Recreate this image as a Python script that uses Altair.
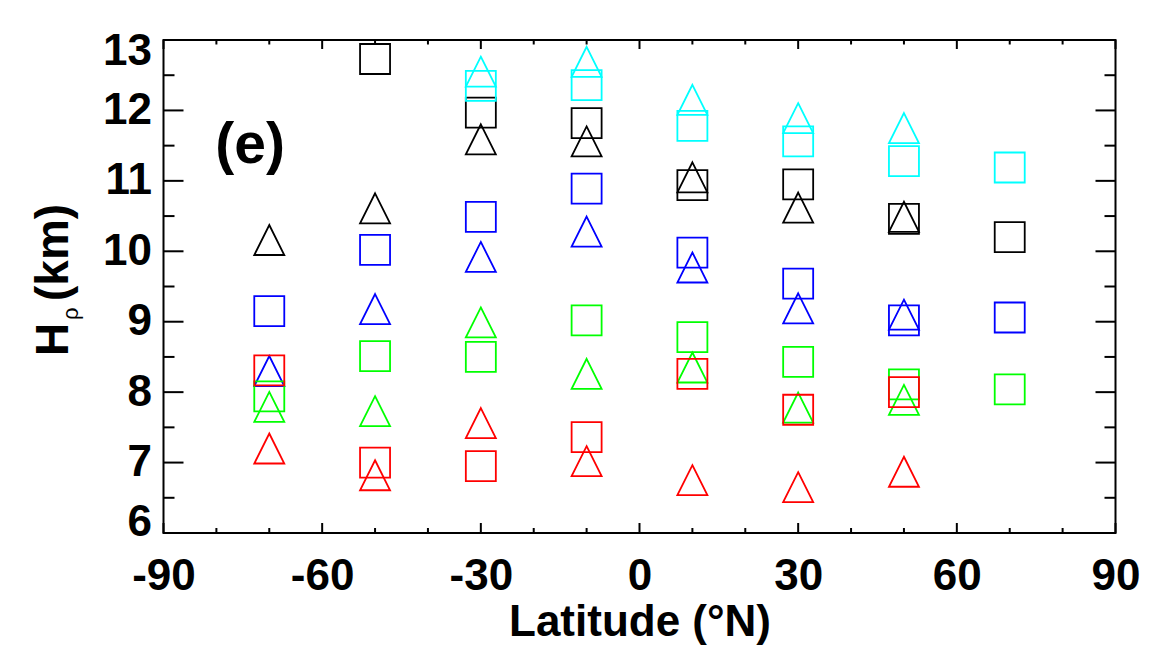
import altair as alt
import pandas as pd

# ---- data ----
lats = [-70, -50, -30, -10, 10, 30, 50, 70]

black_square = [None, 12.73, 11.97, 11.82, 10.94, 10.95, 10.46, 10.20]
black_triangle = [10.16, 10.61, 11.59, 11.56, 11.05, 10.62, 10.49, None]
blue_square = [9.15, 10.02, 10.49, 10.89, 9.98, 9.54, 9.02, 9.06]
blue_triangle = [8.30, 9.18, 9.92, 10.28, 9.77, 9.19, 9.10, None]
green_square = [7.94, 8.51, 8.50, 9.02, 8.78, 8.43, 8.11, 8.04]
green_triangle = [7.79, 7.73, 8.99, 8.26, 8.35, 7.78, 7.89, None]
red_square = [8.31, 7.00, 6.95, 7.36, 8.26, 7.75, 8.00, None]
red_triangle = [7.20, 6.82, 7.56, 7.02, 6.75, 6.65, 6.87, None]
cyan_square = [None, None, 12.35, 12.36, 11.78, 11.56, 11.28, 11.19]
cyan_triangle = [None, None, 12.55, 12.69, 12.15, 11.89, 11.75, None]

series_colors = ["black", "blue", "green", "red", "cyan"]
series_hex = ["#000000", "#0000ff", "#00ff00", "#ff0000", "#00ffff"]
marker_names = ["square", "triangle"]

x_major = [-90, -60, -30, 0, 30, 60, 90]
x_minor = [-80, -70, -50, -40, -20, -10, 10, 20, 40, 50, 70, 80]
y_major = [6, 7, 8, 9, 10, 11, 12, 13]
y_minor = [6.5, 7.5, 8.5, 9.5, 10.5, 11.5, 12.5]

x_title = "Latitude (°N)"
panel_label = "(e)"

series = [
    ("black", "square", black_square), ("black", "triangle", black_triangle),
    ("blue", "square", blue_square), ("blue", "triangle", blue_triangle),
    ("green", "square", green_square), ("green", "triangle", green_triangle),
    ("red", "square", red_square), ("red", "triangle", red_triangle),
    ("cyan", "square", cyan_square), ("cyan", "triangle", cyan_triangle),
]
rows = []
for col, mk, vals in series:
    for la, v in zip(lats, vals):
        if v is not None:
            rows.append({"lat": la, "H": v, "color": col, "marker": mk})
df = pd.DataFrame(rows)

FONT = "Liberation Sans"
xscale = alt.Scale(domain=[-90, 90], nice=False, zero=False)
yscale = alt.Scale(domain=[6, 13], nice=False, zero=False)

points = alt.Chart(df).mark_point(filled=False, size=900, strokeWidth=1.8, opacity=1).encode(
    x=alt.X("lat:Q", scale=xscale, axis=alt.Axis(
        values=x_major, labelExpr="'' + datum.value", ticks=False, tickSize=0, domain=False,
        grid=False, labelFlush=False, labelOverlap=False, labelFont=FONT, labelFontSize=44,
        labelFontWeight="bold", labelColor="black", labelPadding=21,
        title=x_title, titleFont=FONT, titleFontSize=44, titleFontWeight="bold",
        titleColor="black", titlePadding=2)),
    y=alt.Y("H:Q", scale=yscale, axis=alt.Axis(
        values=y_major, labelExpr="'' + datum.value", ticks=False, tickSize=0, domain=False,
        grid=False, labelFlush=True, labelFlushOffset=11, labelOverlap=False, labelFont=FONT,
        labelFontSize=44, labelFontWeight="bold", labelColor="black", labelPadding=12,
        title=None)),
    color=alt.Color("color:N", scale=alt.Scale(domain=series_colors, range=series_hex), legend=None),
    shape=alt.Shape("marker:N", scale=alt.Scale(domain=marker_names,
                    range=["square", "M0,-1L1,1L-1,1Z"]), legend=None),
)


def vticks(values, yval, length):
    d = pd.DataFrame({"lat": values})
    return alt.Chart(d).mark_rule(color="black", strokeWidth=2, y2Offset=length).encode(
        x=alt.X("lat:Q", scale=xscale), y=alt.datum(yval), y2=alt.datum(yval))


def hticks(values, xval, length):
    d = pd.DataFrame({"H": values})
    return alt.Chart(d).mark_rule(color="black", strokeWidth=2, x2Offset=length).encode(
        y=alt.Y("H:Q", scale=yscale), x=alt.datum(xval), x2=alt.datum(xval))


ticks = [
    vticks(x_major, 6, -10), vticks(x_minor, 6, -5),
    vticks(x_major, 13, 9), vticks(x_minor, 13, 4.5),
    hticks(y_major, -90, 20), hticks(y_minor, -90, 11),
    hticks(y_major, 90, -20), hticks(y_minor, 90, -11),
]

label = alt.Chart(pd.DataFrame({"t": [panel_label]})).mark_text(
    font=FONT, fontSize=57, fontWeight="bold", align="left", baseline="alphabetic", color="black"
).encode(x=alt.datum(-80.2), y=alt.datum(11.25), text="t:N")

yt_h = alt.Chart(pd.DataFrame({"t": ["H"]})).mark_text(
    font=FONT, fontSize=46, fontWeight="bold", align="left", baseline="alphabetic",
    angle=270, color="black").encode(x=alt.value(-95.5), y=alt.value(316), text="t:N")
yt_rho = alt.Chart(pd.DataFrame({"t": ["ρ"]})).mark_text(
    font=FONT, fontSize=22, fontWeight="normal", align="left", baseline="alphabetic",
    angle=270, color="black").encode(x=alt.value(-86), y=alt.value(280), text="t:N")
yt_km = alt.Chart(pd.DataFrame({"t": ["(km)"]})).mark_text(
    font=FONT, fontSize=46, fontWeight="bold", align="left", baseline="alphabetic",
    angle=270, color="black").encode(x=alt.value(-95.5), y=alt.value(261), text="t:N")

chart = alt.layer(points, *ticks, label, yt_h, yt_rho, yt_km).properties(
    width=952, height=493,
    padding={"left": 155.5, "top": 32, "right": 40, "bottom": 120},
    autosize=alt.AutoSizeParams(type="none"),
    background="white",
).configure_view(stroke="black", strokeWidth=2)

chart.save("out.html", embed_options={"renderer": "svg", "actions": False})
